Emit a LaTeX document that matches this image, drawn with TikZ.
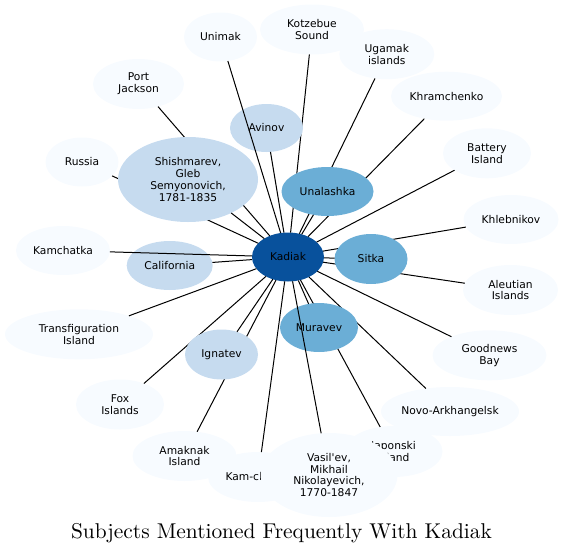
\documentclass[tikz,border=0pt]{standalone}
\usepackage{xcolor}
\usepackage{tikz}
\usetikzlibrary{shapes,calc}
\usepackage{fontspec}
\newfontfamily\labelfont{DejaVu Sans}[Ligatures=TeXOff]
\font\titlefont="[lmroman10-regular]:mapping=tex-text" at 21.4pt

\definecolor{hubblue}{HTML}{08519C}
\definecolor{midblue}{HTML}{6BAED6}
\definecolor{lightblue}{HTML}{C6DBEF}
\definecolor{paleblue}{HTML}{F7FBFF}

\begin{document}
\begin{tikzpicture}[x=1pt,y=-1pt]
        % Define the styles for the subjects and the links
        \tikzstyle{subject}=[ellipse, inner sep=0pt, outer sep=0pt, align=center, text=black, font=\labelfont\fontsize{10.7}{11.8}\selectfont];
        \tikzstyle{hubnode}=[subject, fill=hubblue];
        \tikzstyle{midnode}=[subject, fill=midblue];
        \tikzstyle{nearnode}=[subject, fill=lightblue];
        \tikzstyle{farnode}=[subject, fill=paleblue];
        \tikzstyle{link}=[line width=1pt, black];

        \useasboundingbox (0,0) rectangle (564,554);

        % Central subject
        \node[hubnode, minimum width=72pt, minimum height=49pt] (kadiak) at (288,257) {Kadiak};

        % Outer ring of subjects
        \node[farnode, minimum width=73pt, minimum height=49pt] (unimak) at (220.5,37) {Unimak};
        \node[farnode, minimum width=104pt, minimum height=50pt] (kotzebue) at (312,29.5) {Kotzebue\\Sound};
        \node[farnode, minimum width=95pt, minimum height=50pt] (ugamak) at (386.8,54.2) {Ugamak\\islands};
        \node[farnode, minimum width=111pt, minimum height=49pt] (khramchenko) at (446.5,96.2) {Khramchenko};
        \node[farnode, minimum width=88pt, minimum height=50pt] (battery) at (487,153.3) {Battery\\Island};
        \node[farnode, minimum width=95pt, minimum height=49pt] (khlebnikov) at (511,219.5) {Khlebnikov};
        \node[farnode, minimum width=95pt, minimum height=50pt] (aleutian) at (510.5,290) {Aleutian\\Islands};
        \node[farnode, minimum width=114pt, minimum height=50pt] (goodnews) at (489.5,355.3) {Goodnews\\Bay};
        \node[farnode, minimum width=138pt, minimum height=49pt] (novo) at (450,411.5) {Novo-Arkhangelsk};
        \node[farnode, minimum width=98pt, minimum height=51pt] (japonski) at (393.5,451.5) {Japonski\\Island};
        \node[farnode, minimum width=100pt, minimum height=50pt, text width=65pt, align=left] (kamcl) at (258,477) {Kam-cl};
        \node[farnode, minimum width=104pt, minimum height=50pt] (amaknak) at (184.5,456) {Amaknak\\Island};
        \node[farnode, minimum width=88pt, minimum height=50pt] (fox) at (120,404.5) {Fox\\Islands};
        \node[farnode, minimum width=148pt, minimum height=50pt] (transfiguration) at (79,334.3) {Transfiguration\\Island};
        \node[farnode, minimum width=94pt, minimum height=49pt] (kamchatka) at (63,250.5) {Kamchatka};
        \node[farnode, minimum width=73pt, minimum height=49pt] (russia) at (82,162) {Russia};
        \node[farnode, minimum width=91pt, minimum height=50pt] (portjackson) at (138.5,84) {Port\\Jackson};
        \node[farnode, minimum width=137pt, minimum height=84pt] (vasilev) at (329,475) {Vasil'ev,\\Mikhail\\Nikolayevich,\\1770-1847};

        % Links that run under the inner subjects
        \foreach \n in {kotzebue,ugamak,khramchenko,battery,khlebnikov,aleutian,goodnews,novo,japonski,kamcl,amaknak,fox,transfiguration,russia,portjackson}
            \draw[link] (kadiak) -- (\n);

        % Inner ring of subjects
        \node[nearnode, minimum width=140pt, minimum height=85pt] (shishmarev) at (188,179.5) {Shishmarev,\\Gleb\\Semyonovich,\\1781-1835};
        \node[nearnode, minimum width=73pt, minimum height=48pt] (avinov) at (266.5,128) {Avinov};
        \node[nearnode, minimum width=86pt, minimum height=49pt] (california) at (169.7,265.5) {California};
        \node[nearnode, minimum width=73pt, minimum height=50pt] (ignatev) at (221.5,354.5) {Ignatev};
        \node[midnode, minimum width=92pt, minimum height=49pt] (unalashka) at (327.5,191.5) {Unalashka};
        \node[midnode, minimum width=73pt, minimum height=50pt] (sitka) at (371,259) {Sitka};
        \node[midnode, minimum width=78pt, minimum height=49pt] (muravev) at (319,327.5) {Muravev};

        % Links drawn on top
        \foreach \n in {shishmarev,avinov,california,ignatev,unalashka,sitka,muravev,unimak,kamchatka,vasilev}
            \draw[link] (kadiak) -- (\n);

        % Label the picture
        \node[anchor=base] (title) at (281.5,538) {\titlefont Subjects Mentioned Frequently With Kadiak};
    \end{tikzpicture}
\end{document}
